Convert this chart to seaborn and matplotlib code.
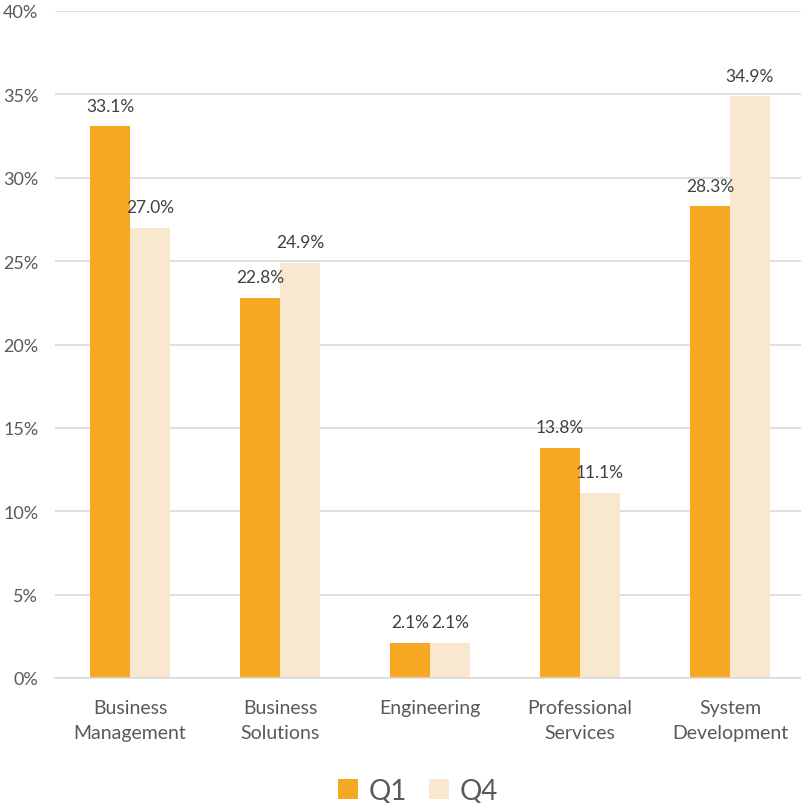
import matplotlib
matplotlib.use("Agg")
import matplotlib.pyplot as plt
import seaborn as sns
import pandas as pd
from matplotlib.patches import Patch

categories = ["Business\nManagement", "Business\nSolutions", "Engineering",
              "Professional\nServices", "System\nDevelopment"]
q1 = [33.1, 22.8, 2.1, 13.8, 28.3]
q4 = [27.0, 24.9, 2.1, 11.1, 34.9]
series = ["Q1", "Q4"]
colors = {"Q1": "#F7A823", "Q4": "#FAE7CF"}

df = pd.DataFrame({
    "cat": categories * 2,
    "val": q1 + q4,
    "series": ["Q1"] * len(categories) + ["Q4"] * len(categories),
})

sns.set_theme(style="white")
plt.rcParams["font.family"] = ["Lato", "DejaVu Sans"]

fig = plt.figure(figsize=(8.01, 8.04), dpi=100)
ax = fig.add_axes([55 / 801, 125 / 804, 750 / 801, 667 / 804])

sns.barplot(data=df, x="cat", y="val", hue="series", palette=colors,
            width=0.53, dodge=True, ax=ax, legend=False, saturation=1,
            linewidth=0)

ax.set_ylim(0, 40)
ax.set_yticks(range(0, 41, 5))
ax.set_yticklabels([f"{t}%" for t in range(0, 41, 5)])
ax.yaxis.grid(True, color="#D9D9D9", linewidth=1.2)
ax.set_axisbelow(True)
for s in ["top", "right", "left"]:
    ax.spines[s].set_visible(False)
ax.spines["bottom"].set_color("#D9D9D9")
ax.spines["bottom"].set_linewidth(1.2)
ax.set_xlabel("")
ax.set_ylabel("")
ax.tick_params(axis="both", length=0, colors="#595959")
ax.tick_params(axis="x", pad=15, labelsize=14)
ax.tick_params(axis="y", pad=12, labelsize=13)
for lbl in ax.get_xticklabels():
    lbl.set_linespacing(1.55)

for cont in ax.containers:
    ax.bar_label(cont, labels=[f"{v:.1f}%" for v in cont.datavalues],
                 padding=9, fontsize=12.5, color="#404040")

handles = [Patch(facecolor=colors[s], edgecolor="none", label=s) for s in series]
fig.legend(handles=handles, loc="lower center", ncol=2, frameon=False,
           bbox_to_anchor=(0.522, -0.032), fontsize=20, handlelength=0.7,
           handleheight=0.7, handletextpad=0.4, columnspacing=0.8,
           labelcolor="#595959")

fig.savefig("out.png", dpi=100)
